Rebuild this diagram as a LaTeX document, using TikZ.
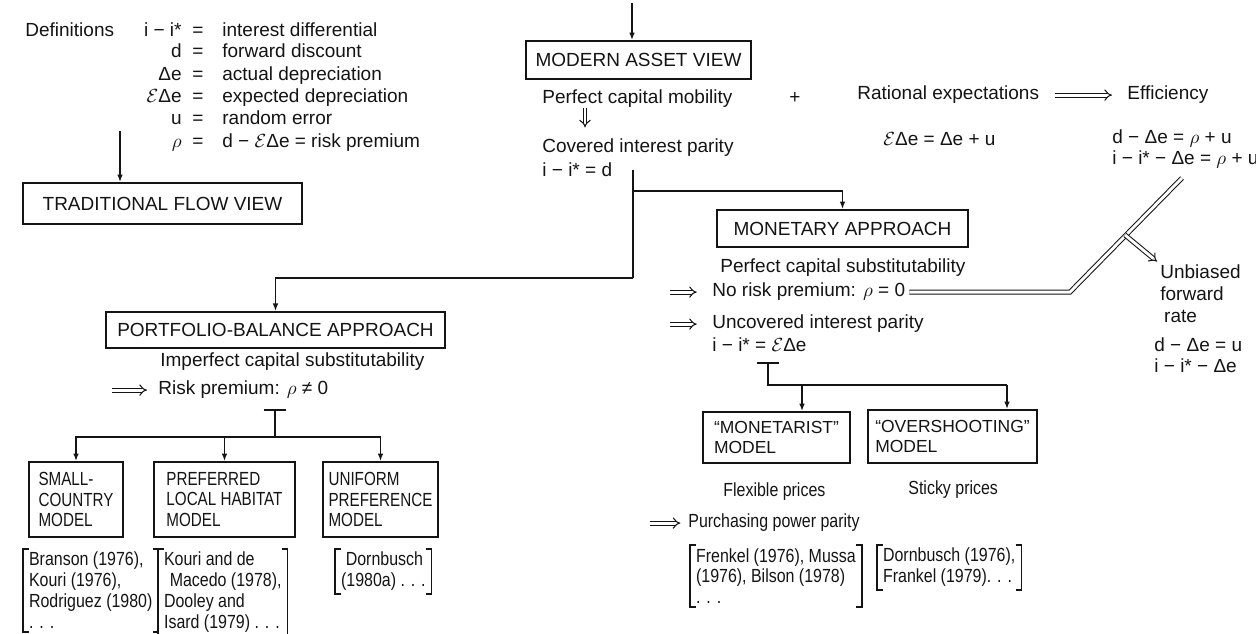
\documentclass[tikz,border=0pt]{standalone}
\usepackage{fontspec}
\setmainfont{Liberation Sans}
\newfontfamily\narrowfont[FakeStretch=0.84]{Liberation Sans}
\newfontfamily\modelfont[FakeStretch=0.8]{Liberation Sans}
\usetikzlibrary{arrows.meta}
\definecolor{inkcol}{gray}{0.08}
\tikzset{
  txt/.style={inner sep=0pt,text=inkcol,font=\fontsize{10}{11.6}\selectfont},
  lowtxt/.style={inner sep=0pt,text=inkcol,font=\fontsize{10}{11.6}\narrowfont},
  boxn/.style={draw=inkcol,line width=0.9pt,rectangle,inner sep=3pt,text=inkcol,font=\fontsize{10}{11.6}\selectfont},
  modbox/.style={boxn,align=left,font=\fontsize{10}{11}\modelfont},
  monbox/.style={boxn,align=left,font=\fontsize{9.2}{10.5}\selectfont},
  reftxt/.style={align=left,inner xsep=3pt,inner ysep=1.5pt,text=inkcol,font=\fontsize{10}{11}\narrowfont},
  brk/.style={draw=inkcol,line width=0.7pt},
  conn/.style={draw=inkcol,line width=0.8pt},
  arr/.style={draw=inkcol,line width=0.8pt,-{Latex[length=4pt,width=3pt]}},
  dbl/.style={draw=inkcol,double,double distance=1.5pt,line width=0.55pt,-{Implies}},
  dblline/.style={draw=inkcol,double,double distance=1.5pt,line width=0.55pt},
}

\begin{document}
\begin{tikzpicture}[x=0.0185cm,y=0.0185cm]
  \useasboundingbox (0,0) rectangle (1256,-634);
  % definitions
  \node[txt,anchor=base west] (defhead) at (25,-37) {Definitions};
  \node[txt,anchor=base east] (deflA) at (182,-37) {i − i*};
  \node[txt,anchor=base east] (deflB) at (182,-58) {d};
  \node[txt,anchor=base east] (deflC) at (182,-81) {Δe};
  \node[txt,anchor=base east] (deflD) at (182,-103) {$\mathcal{E}$Δe};
  \node[txt,anchor=base east] (deflE) at (182,-125) {u};
  \node[txt,anchor=base east] (deflF) at (182,-148) {$\rho$};
  \node[txt,anchor=base] (defeqA) at (198,-37) {=};
  \node[txt,anchor=base] (defeqB) at (198,-58) {=};
  \node[txt,anchor=base] (defeqC) at (198,-81) {=};
  \node[txt,anchor=base] (defeqD) at (198,-103) {=};
  \node[txt,anchor=base] (defeqE) at (198,-125) {=};
  \node[txt,anchor=base] (defeqF) at (198,-148) {=};
  \node[txt,anchor=base west] (defrA) at (222,-37) {interest differential};
  \node[txt,anchor=base west] (defrB) at (222,-58) {forward discount};
  \node[txt,anchor=base west] (defrC) at (222,-81) {actual depreciation};
  \node[txt,anchor=base west] (defrD) at (222,-103) {expected depreciation};
  \node[txt,anchor=base west] (defrE) at (222,-125) {random error};
  \node[txt,anchor=base west] (defrF) at (222,-148) {d − $\mathcal{E}$Δe = risk premium};
  \node[boxn,minimum width=146.9pt,minimum height=21.6pt] (trad) at (162.5,-203.5) {TRADITIONAL FLOW VIEW};
  \coordinate (defout) at (120,-131);
  \draw[arr] (defout) -- (defout |- trad.north);
  % modern asset view
  \node[boxn,minimum width=118.4pt,minimum height=20pt] (modern) at (638.5,-60) {MODERN ASSET VIEW};
  \coordinate (topin) at (632,-3);
  \draw[arr] (topin) -- (topin |- modern.north);
  \node[txt,anchor=base west] (mobil) at (542,-104) {Perfect capital mobility};
  \node[txt] (plus) at (795,-98) {+};
  \node[txt,anchor=base west] (covered) at (542,-153) {Covered interest parity};
  \node[txt,anchor=base west] (cip) at (542,-177) {i − i* = d};
  \coordinate (dnarr) at (585,-110);
  \draw[dbl,shorten >=6pt] (mobil.south -| dnarr) -- (covered.north -| dnarr);
  \node[txt,anchor=base west] (ratexp) at (857,-100) {Rational expectations};
  \node[txt,anchor=base west] (effic) at (1127,-100) {Efficiency};
  \draw[dbl,shorten <=8.4pt,shorten >=7.9pt] (ratexp) -- (effic);
  \node[txt,anchor=base west] (expeq) at (883,-146) {$\mathcal{E}$Δe = Δe + u};
  \node[txt,anchor=base west] (effeqA) at (1112,-144) {d − Δe = $\rho$ + u};
  \node[txt,anchor=base west] (effeqB) at (1112,-165) {i − i* − Δe = $\rho$ + u};
  \coordinate (covout) at (633,-170);
  \coordinate (splitM) at (633,-191);
  \coordinate (splitP) at (633,-278);
  \draw[conn] (covout) -- (splitP);
  % monetary approach
  \node[boxn,minimum width=132.1pt,minimum height=19.5pt] (monetary) at (842.5,-228.5) {MONETARY APPROACH};
  \draw[arr] (splitM) -| (monetary.north);
  \node[txt,anchor=base west] (perfsub) at (720,-273) {Perfect capital substitutability};
  \node[txt,anchor=base west] (norisk) at (712,-297) {No risk premium: $\rho$ = 0};
  \coordinate (impNR) at (670,-292);
  \draw[dbl,shorten >=8pt] (norisk.west -| impNR) -- (norisk.west);
  \coordinate (bendU) at (1070,-292);
  \coordinate (effin) at (1182,-178);
  \draw[dblline,shorten <=2pt] (norisk.east) -- (norisk.east -| bendU) -- (effin);
  \node[txt,anchor=north west,align=left] (unbiased) at (1160,-264) {Unbiased\\forward\\\hspace*{2pt}rate};
  \coordinate (fork) at (1125,-235);
  \draw[dbl,shorten >=2pt] (fork) -- (unbiased.north west);
  \node[txt,anchor=base west] (ubeqA) at (1154,-352) {d − Δe = u};
  \node[txt,anchor=base west] (ubeqB) at (1154,-373) {i − i* − Δe};
  \node[txt,anchor=base west] (uncov) at (712,-329) {Uncovered interest parity};
  \coordinate (impUC) at (670,-324);
  \draw[dbl,shorten >=8pt] (uncov.west -| impUC) -- (uncov.west);
  \node[txt,anchor=base west] (uip) at (712,-352) {i − i* = $\mathcal{E}$Δe};
  \coordinate (teeB) at (768,-363);
  \coordinate (splitB) at (768,-385);
  \coordinate (dropM) at (802,-385);
  \coordinate (dropO) at (1007,-385);
  \draw[conn] ([xshift=-6pt]teeB) -- ([xshift=6pt]teeB);
  \draw[conn] (teeB) -- (splitB) -- (dropO);
  \node[monbox,minimum width=77.4pt,minimum height=26.8pt] (monetarist) at (776.5,-437.5) {“MONETARIST”\\MODEL};
  \node[monbox,minimum width=89pt,minimum height=27.9pt] (overshoot) at (952.5,-436.5) {“OVERSHOOTING”\\MODEL};
  \draw[arr] (dropM) -- (dropM |- monetarist.north);
  \draw[arr] (dropO) -- (dropO |- overshoot.north);
  \node[lowtxt,anchor=base west] (flexp) at (723,-497) {Flexible prices};
  \node[lowtxt,anchor=base west] (stickp) at (908,-495) {Sticky prices};
  \node[lowtxt,anchor=base west] (ppp) at (688,-528) {Purchasing power parity};
  \coordinate (impPP) at (650,-523);
  \draw[dbl,shorten >=4pt] (ppp.west -| impPP) -- (ppp.west);
  \node[reftxt,anchor=north west] (refMon) at (690,-545) {Frenkel (1976), Mussa\\(1976), Bilson (1978)\\. . .};
  \node[reftxt,anchor=north west] (refOver) at (877,-545) {Dornbusch (1976),\\Frankel (1979). . .};
  \draw[brk] ([xshift=3pt]refMon.north west) -- (refMon.north west) -- (refMon.south west) -- ([xshift=3pt]refMon.south west);
  \draw[brk] ([xshift=-3pt]refMon.north east) -- (refMon.north east) -- (refMon.south east) -- ([xshift=-3pt]refMon.south east);
  \draw[brk] ([xshift=3pt]refOver.north west) -- (refOver.north west) -- (refOver.south west) -- ([xshift=3pt]refOver.south west);
  \draw[brk] ([xshift=-3pt]refOver.north east) -- (refOver.north east) -- (refOver.south east) -- ([xshift=-3pt]refOver.south east);
  % portfolio-balance approach
  \node[boxn,minimum width=178.5pt,minimum height=19pt] (portfolio) at (275.5,-330) {PORTFOLIO-BALANCE APPROACH};
  \draw[arr] (splitP) -| (portfolio.north);
  \node[txt,anchor=base west] (imperf) at (160,-367) {Imperfect capital substitutability};
  \node[txt,anchor=base west] (riskp) at (158,-395) {Risk premium: $\rho$ ≠ 0};
  \coordinate (impRP) at (112,-390);
  \draw[dbl,shorten >=5.8pt] (riskp.west -| impRP) -- (riskp.west);
  \coordinate (teeA) at (275,-410);
  \coordinate (splitA) at (275,-437);
  \draw[conn] ([xshift=-6pt]teeA) -- ([xshift=6pt]teeA);
  \draw[conn] (teeA) -- (splitA);
  \node[modbox,minimum width=49.5pt,minimum height=39.5pt] (small) at (76,-499.5) {SMALL-\\COUNTRY\\MODEL};
  \node[modbox,minimum width=74.2pt,minimum height=39.5pt] (preferred) at (224.5,-499.5) {PREFERRED\\LOCAL HABITAT\\MODEL};
  \node[modbox,minimum width=58.4pt,minimum height=39.5pt] (uniform) at (380.5,-499.5) {UNIFORM\\PREFERENCE\\MODEL};
  \draw[arr] (splitA) -| (small.north);
  \draw[arr] (splitA) -| (uniform.north);
  \draw[arr] (splitA -| preferred.north) -- (preferred.north);
  \node[reftxt,anchor=north west] (refSC) at (23,-549) {Branson (1976),\\Kouri (1976),\\Rodriguez (1980)\\. . .};
  \node[reftxt,anchor=north west] (refPL) at (158,-549) {Kouri and de\\\hspace*{3pt}Macedo (1978),\\Dooley and\\Isard (1979) . . .};
  \node[reftxt,anchor=north west] (refUP) at (335,-549) {\hspace*{2.5pt}Dornbusch\\(1980a) . . .};
  \draw[brk] ([xshift=3pt]refSC.north west) -- (refSC.north west) -- (refSC.south west) -- ([xshift=3pt]refSC.south west);
  \draw[brk] ([xshift=-3pt]refSC.north east) -- (refSC.north east) -- (refSC.south east) -- ([xshift=-3pt]refSC.south east);
  \draw[brk] ([xshift=3pt]refPL.north west) -- (refPL.north west) -- (refPL.south west) -- ([xshift=3pt]refPL.south west);
  \draw[brk] ([xshift=-3pt]refPL.north east) -- (refPL.north east) -- (refPL.south east) -- ([xshift=-3pt]refPL.south east);
  \draw[brk] ([xshift=3pt]refUP.north west) -- (refUP.north west) -- (refUP.south west) -- ([xshift=3pt]refUP.south west);
  \draw[brk] ([xshift=-3pt]refUP.north east) -- (refUP.north east) -- (refUP.south east) -- ([xshift=-3pt]refUP.south east);
\end{tikzpicture}
\end{document}
